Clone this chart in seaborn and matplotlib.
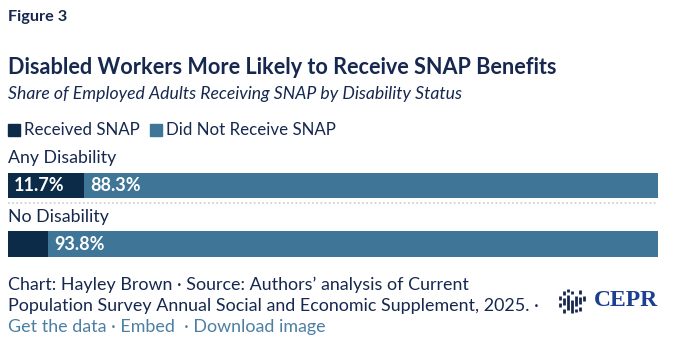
import matplotlib
matplotlib.use("Agg")
import matplotlib.pyplot as plt
import seaborn as sns
import pandas as pd
from matplotlib.patches import Rectangle
from matplotlib.lines import Line2D

categories = ["Any Disability", "No Disability"]
received = [11.7, 6.2]
not_received = [88.3, 93.8]
received_labels = ["11.7%", ""]
not_received_labels = ["88.3%", "93.8%"]

DARK = "#0b2b48"
LIGHT = "#3f7596"
NAVY = "#16284f"
LINK = "#4b7fa3"

sns.set_theme(style="white")
plt.rcParams["font.family"] = ["Lato", "DejaVu Sans"]

W, H = 680, 346
fig = plt.figure(figsize=(6.8, 3.46), dpi=100)

def fx(x):
    return x / W

def fy(y):
    return 1 - y / H

df = pd.DataFrame({"cat": categories, "rec": received, "notrec": not_received})
df["total"] = df["rec"] + df["notrec"]

ax = fig.add_axes([fx(8), fy(273.25), fx(650), 117 / H])
sns.barplot(data=df, y="cat", x="total", orient="h", color=LIGHT, width=0.43,
            saturation=1, ax=ax, edgecolor="none")
sns.barplot(data=df, y="cat", x="rec", orient="h", color=DARK, width=0.43,
            saturation=1, ax=ax, edgecolor="none")
ax.set_xlim(0, 100)
ax.set_ylim(1.5, -0.5)
ax.axis("off")

for i in range(len(categories)):
    if received_labels[i]:
        ax.text(0.9, i, received_labels[i], color="white", fontsize=13,
                fontweight="bold", va="center", ha="left")
    ax.text(received[i] + 0.9, i, not_received_labels[i], color="white",
            fontsize=13, fontweight="bold", va="center", ha="left")
    ax.text(0, i - 0.47, categories[i], color=NAVY, fontsize=12.8,
            va="center", ha="left")

# dotted separator
fig.add_artist(Line2D([fx(8), fx(658)], [fy(203), fy(203)], color="#c8ccd4",
                      lw=1.2, ls=(0, (1, 1.5))))

# header texts
fig.text(fx(8), fy(17), "Figure 3", color=NAVY, fontsize=11.7, fontweight="bold",
         va="center", ha="left")
fig.text(fx(8), fy(68), "Disabled Workers More Likely to Receive SNAP Benefits",
         color=NAVY, fontsize=15.6, fontweight="bold", va="center", ha="left")
fig.text(fx(8), fy(94), "Share of Employed Adults Receiving SNAP by Disability Status",
         color=NAVY, fontsize=12.7, style="italic", va="center", ha="left")

# legend
fig.add_artist(Rectangle((fx(8), fy(136)), fx(12), 12 / H, color=DARK,
                         transform=fig.transFigure))
fig.text(fx(24), fy(130), "Received SNAP", color=NAVY, fontsize=12.2,
         va="center", ha="left")
fig.add_artist(Rectangle((fx(150), fy(136)), fx(12), 12 / H, color=LIGHT,
                         transform=fig.transFigure))
fig.text(fx(166), fy(130), "Did Not Receive SNAP", color=NAVY, fontsize=12.2,
         va="center", ha="left")

# footer
fig.text(fx(8), fy(285), "Chart: Hayley Brown \u00b7 Source: Authors\u2019 analysis of Current",
         color=NAVY, fontsize=12.9, va="center", ha="left")
fig.text(fx(8), fy(306), "Population Survey Annual Social and Economic Supplement, 2025. \u00b7",
         color=NAVY, fontsize=12.9, va="center", ha="left")
fig.text(fx(8), fy(327), "Get the data \u00b7 Embed  \u00b7 Download image",
         color=LINK, fontsize=12.9, va="center", ha="left")

# CEPR logo (icon of short vertical segments)
logo_segs = [
    (560, 296, 300), (560, 303, 307),
    (564, 291, 295), (564, 298, 305), (564, 309, 313),
    (568, 289, 292), (568, 295, 310),
    (572, 291, 294), (572, 300, 313),
    (576, 296, 306), (576, 309, 312),
    (580, 290, 294), (580, 297, 304), (580, 307, 311),
    (584, 296, 301),
]
for x, y0, y1 in logo_segs:
    fig.add_artist(Line2D([fx(x), fx(x)], [fy(y0), fy(y1)], color=NAVY, lw=2.0,
                          solid_capstyle="butt"))
fig.text(fx(594), fy(301), "CEPR", color="#1d3f8f", fontsize=17,
         fontweight="bold", family="Liberation Serif", va="center", ha="left")

fig.savefig("out.png", dpi=100, facecolor="white")
